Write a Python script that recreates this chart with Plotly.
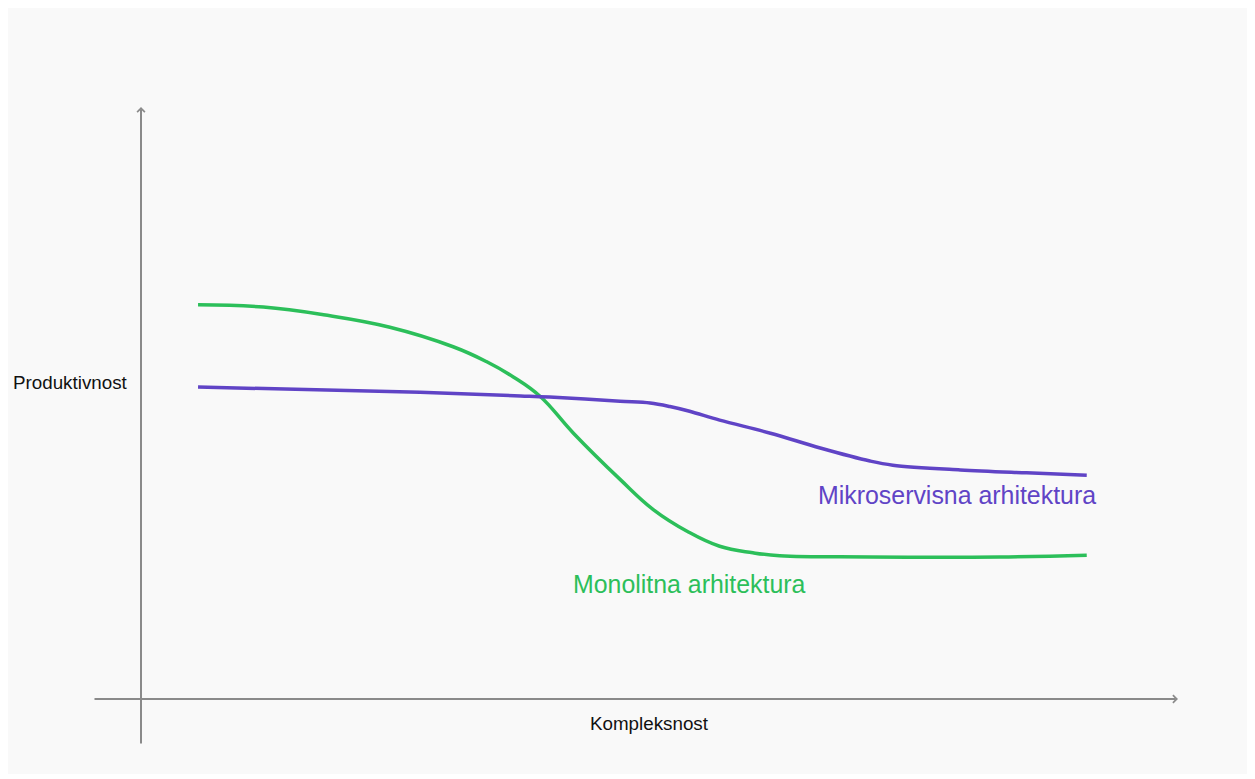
import plotly.graph_objects as go

# Data (abstract units: complexity 0..10, productivity 0..10)
mono_x = [0.55, 1.18, 1.76, 2.40, 3.01, 3.33, 3.59, 3.85, 4.17, 4.62, 4.94, 5.27, 5.58, 5.90, 6.16, 7.03, 8.28, 9.12]
mono_y = [6.66, 6.62, 6.49, 6.28, 5.95, 5.70, 5.44, 5.11, 4.49, 3.71, 3.20, 2.83, 2.58, 2.47, 2.42, 2.40, 2.40, 2.43]

micro_x = [0.55, 2.69, 3.66, 3.94, 4.62, 4.91, 5.10, 5.29, 5.58, 6.07, 6.55, 7.03, 7.25, 7.90, 8.54, 9.12]
micro_y = [5.27, 5.18, 5.12, 5.10, 5.03, 5.00, 4.94, 4.86, 4.71, 4.49, 4.24, 4.02, 3.95, 3.87, 3.82, 3.78]

x_label = "Kompleksnost"
y_label = "Produktivnost"
mono_label = "Monolitna arhitektura"
micro_label = "Mikroservisna arhitektura"

GREEN = "#2cbf5a"
PURPLE = "#6044c6"
AXIS = "#8a8a8a"
FONT = "Arial, Liberation Sans, sans-serif"

fig = go.Figure()
fig.add_trace(go.Scatter(x=mono_x, y=mono_y, mode="lines",
                         line=dict(color=GREEN, width=3.5, shape="spline", smoothing=1.2),
                         hoverinfo="skip", showlegend=False))
fig.add_trace(go.Scatter(x=micro_x, y=micro_y, mode="lines",
                         line=dict(color=PURPLE, width=3.5, shape="spline", smoothing=1.0),
                         hoverinfo="skip", showlegend=False))

annotations = [
    # x axis arrow
    dict(x=10, y=0, ax=-0.463, ay=0, xref="x", yref="y", axref="x", ayref="y",
         text="", showarrow=True, arrowhead=4, arrowsize=0.75, arrowwidth=2,
         arrowcolor=AXIS, standoff=0, startstandoff=0),
    # y axis arrow
    dict(x=0, y=10, ax=0, ay=-0.777, xref="x", yref="y", axref="x", ayref="y",
         text="", showarrow=True, arrowhead=4, arrowsize=0.75, arrowwidth=2,
         arrowcolor=AXIS, standoff=0, startstandoff=0),
    dict(x=-1.234, y=5.338, xref="x", yref="y", text=y_label, showarrow=False, xshift=-2,
         xanchor="left", yanchor="middle", font=dict(family=FONT, size=18.8, color="#111")),
    dict(x=4.908, y=-0.422, xref="x", yref="y", text=x_label, showarrow=False,
         xanchor="center", yanchor="middle", font=dict(family=FONT, size=18.8, color="#111")),
    dict(x=4.166, y=1.943, xref="x", yref="y", text=mono_label, showarrow=False, xshift=-2,
         xanchor="left", yanchor="middle", font=dict(family=FONT, size=24.9, color=GREEN)),
    dict(x=6.528, y=3.446, xref="x", yref="y", text=micro_label, showarrow=False, xshift=-2,
         xanchor="left", yanchor="middle", font=dict(family=FONT, size=24.9, color=PURPLE)),
]

# page places the figure at an 8px offset, so the figure is 8px smaller
W, H = 1247, 771
OX, OY = 133, 691      # origin position in figure pixels
SX, SY = 103.7, 59.2   # pixels per unit
fig.update_layout(
    width=W, height=H,
    margin=dict(l=0, r=0, t=0, b=0),
    paper_bgcolor="white",
    plot_bgcolor="rgba(0,0,0,0)",
    xaxis=dict(range=[-OX / SX, (W - OX) / SX], visible=False, fixedrange=True),
    yaxis=dict(range=[-(H - OY) / SY, OY / SY], visible=False, fixedrange=True),
    annotations=annotations,
    shapes=[dict(type="rect", xref="paper", yref="paper", layer="below",
                 x0=0, x1=1242 / W, y0=1 - 766 / H, y1=1,
                 fillcolor="#f9f9f9", line=dict(width=0))],
    showlegend=False,
)

fig.write_html("out.html", config={"displayModeBar": False})
